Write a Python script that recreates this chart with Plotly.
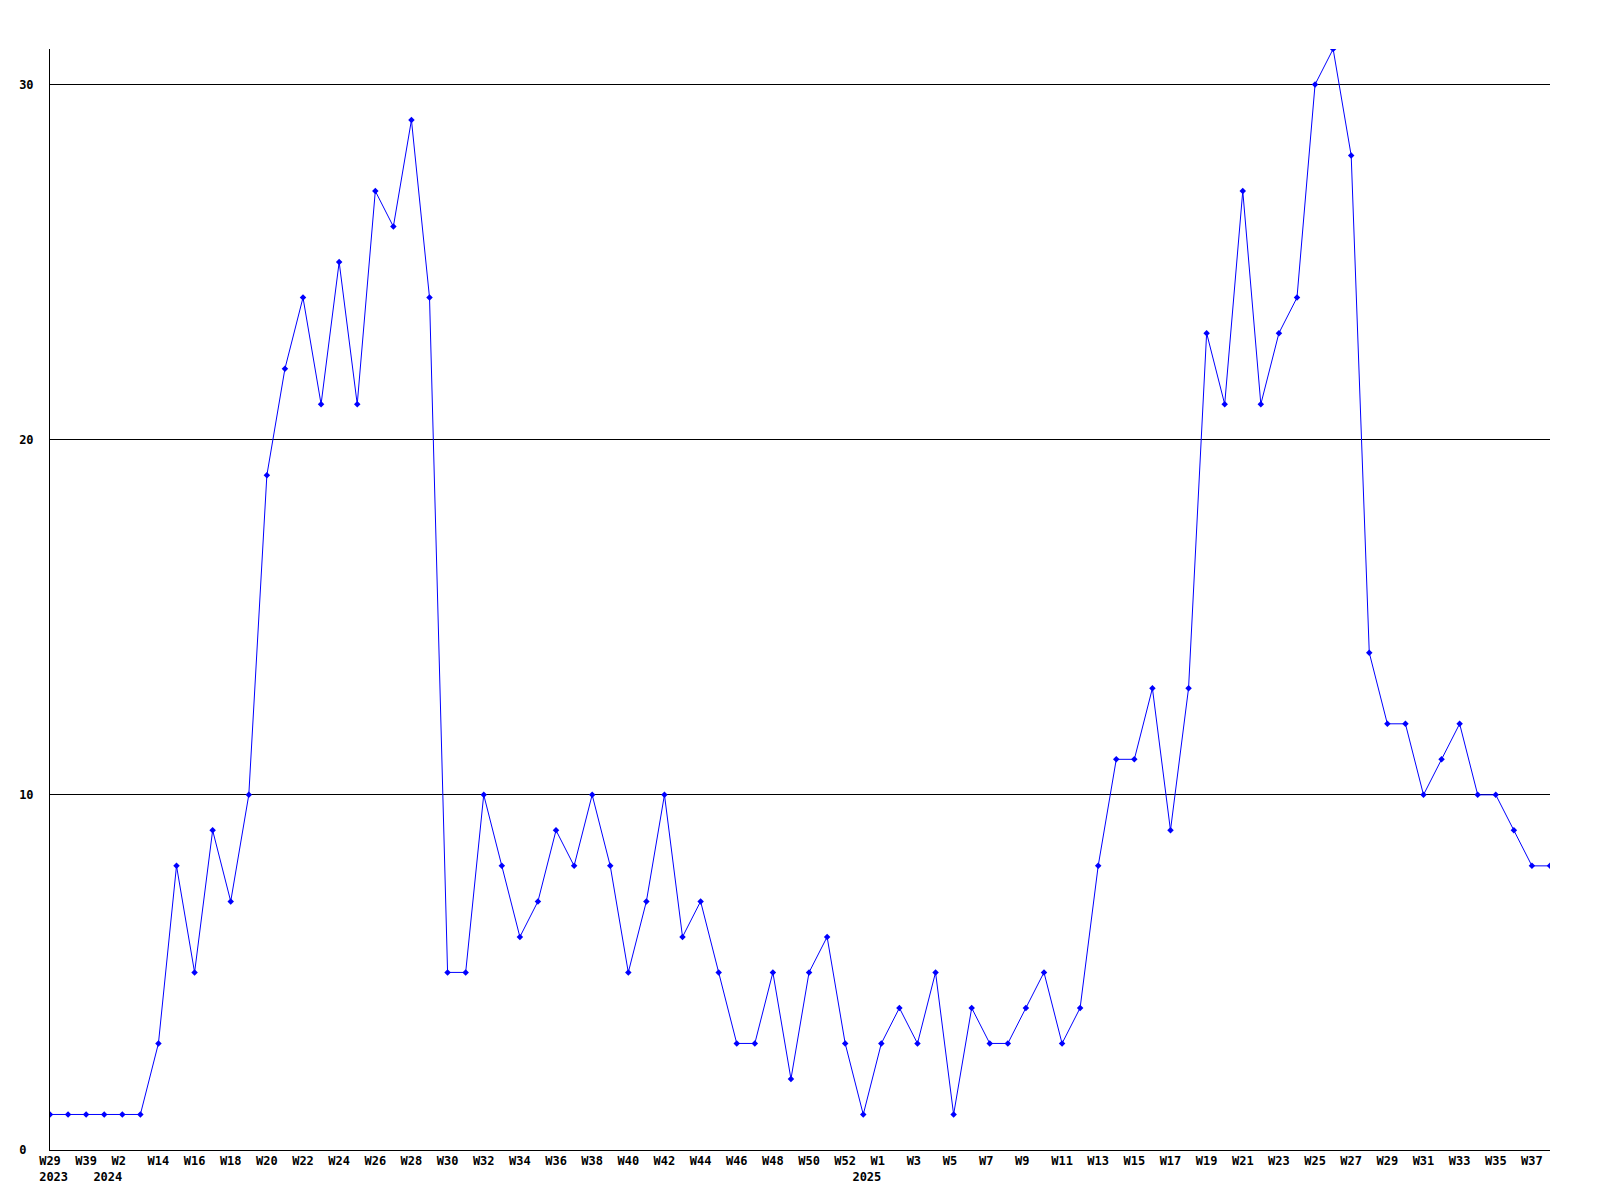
"""Weekly counts line chart, GD-style."""

import plotly.graph_objects as go

# week index labels (year-week), one per point
periods = [
    "2023-W29", "2023-W34", "2023-W39", "2024-W01", "2024-W02", "2024-W08",
    "2024-W14", "2024-W15", "2024-W16", "2024-W17", "2024-W18", "2024-W19",
    "2024-W20", "2024-W21", "2024-W22", "2024-W23", "2024-W24", "2024-W25",
    "2024-W26", "2024-W27", "2024-W28", "2024-W29", "2024-W30", "2024-W31",
    "2024-W32", "2024-W33", "2024-W34", "2024-W35", "2024-W36", "2024-W37",
    "2024-W38", "2024-W39", "2024-W40", "2024-W41", "2024-W42", "2024-W43",
    "2024-W44", "2024-W45", "2024-W46", "2024-W47", "2024-W48", "2024-W49",
    "2024-W50", "2024-W51", "2024-W52", "2025-W00", "2025-W01", "2025-W02",
    "2025-W03", "2025-W04", "2025-W05", "2025-W06", "2025-W07", "2025-W08",
    "2025-W09", "2025-W10", "2025-W11", "2025-W12", "2025-W13", "2025-W14",
    "2025-W15", "2025-W16", "2025-W17", "2025-W18", "2025-W19", "2025-W20",
    "2025-W21", "2025-W22", "2025-W23", "2025-W24", "2025-W25", "2025-W26",
    "2025-W27", "2025-W28", "2025-W29", "2025-W30", "2025-W31", "2025-W32",
    "2025-W33", "2025-W34", "2025-W35", "2025-W36", "2025-W37", "2025-W38",
]

counts = [
    1, 1, 1, 1, 1, 1,
    3, 8, 5, 9, 7, 10,
    19, 22, 24, 21, 25, 21,
    27, 26, 29, 24, 5, 5,
    10, 8, 6, 7, 9, 8,
    10, 8, 5, 7, 10, 6,
    7, 5, 3, 3, 5, 2,
    5, 6, 3, 1, 3, 4,
    3, 5, 1, 4, 3, 3,
    4, 5, 3, 4, 8, 11,
    11, 13, 9, 13, 23, 21,
    27, 21, 23, 24, 30, 31,
    28, 14, 12, 12, 10, 11,
    12, 10, 10, 9, 8, 8,
]

# first point of each year gets the year written under it
year_starts = {"2023-W29": "2023", "2024-W01": "2024", "2025-W00": "2025"}

y_ticks = [0, 10, 20, 30]

NBSP = "\u00a0"

tickvals, ticktext = [], []
for i, p in enumerate(periods):
    week = p.split("-")[1].replace("W0", "W")
    top = ""
    if i % 2 == 0:
        top = week if len(week) >= 3 else week + NBSP
    if p in year_starts:
        ticktext.append((top or NBSP) + "<br>" + NBSP + year_starts[p])
    elif top:
        ticktext.append(top)
    else:
        continue
    tickvals.append(p)

# y labels are left-aligned in the original, pad the short one
y_text = [str(v) + NBSP * (2 - len(str(v))) for v in y_ticks]

font = dict(family="DejaVu Sans Mono", size=12, color="black", weight="bold")

fig = go.Figure(
    go.Scatter(
        x=periods,
        y=counts,
        mode="lines+markers",
        line=dict(color="#0000ff", width=1),
        marker=dict(symbol="diamond", size=5, color="#0000ff"),
        hoverinfo="x+y",
    )
)

fig.update_xaxes(
    type="category",
    range=[0, len(periods) - 1],
    tickvals=tickvals,
    ticktext=ticktext,
    tickangle=0,
    tickfont=font,
    showgrid=False,
    showline=True,
    linecolor="black",
    linewidth=1,
    ticks="",
    zeroline=False,
    automargin=False,
)
fig.update_yaxes(
    range=[0, max(counts)],
    tickvals=y_ticks,
    ticktext=y_text,
    tickfont=font,
    showgrid=True,
    gridcolor="black",
    gridwidth=1,
    showline=True,
    linecolor="black",
    linewidth=1,
    ticks="",
    zeroline=False,
    ticklabelstandoff=13,
    automargin=False,
)
# page body has an 8px margin, so the figure is sized to fit inside the window
fig.update_layout(
    width=1584,
    height=1184,
    margin=dict(l=42, r=42, t=41, b=42),
    paper_bgcolor="white",
    plot_bgcolor="white",
    showlegend=False,
)

fig.write_html("out.html")
